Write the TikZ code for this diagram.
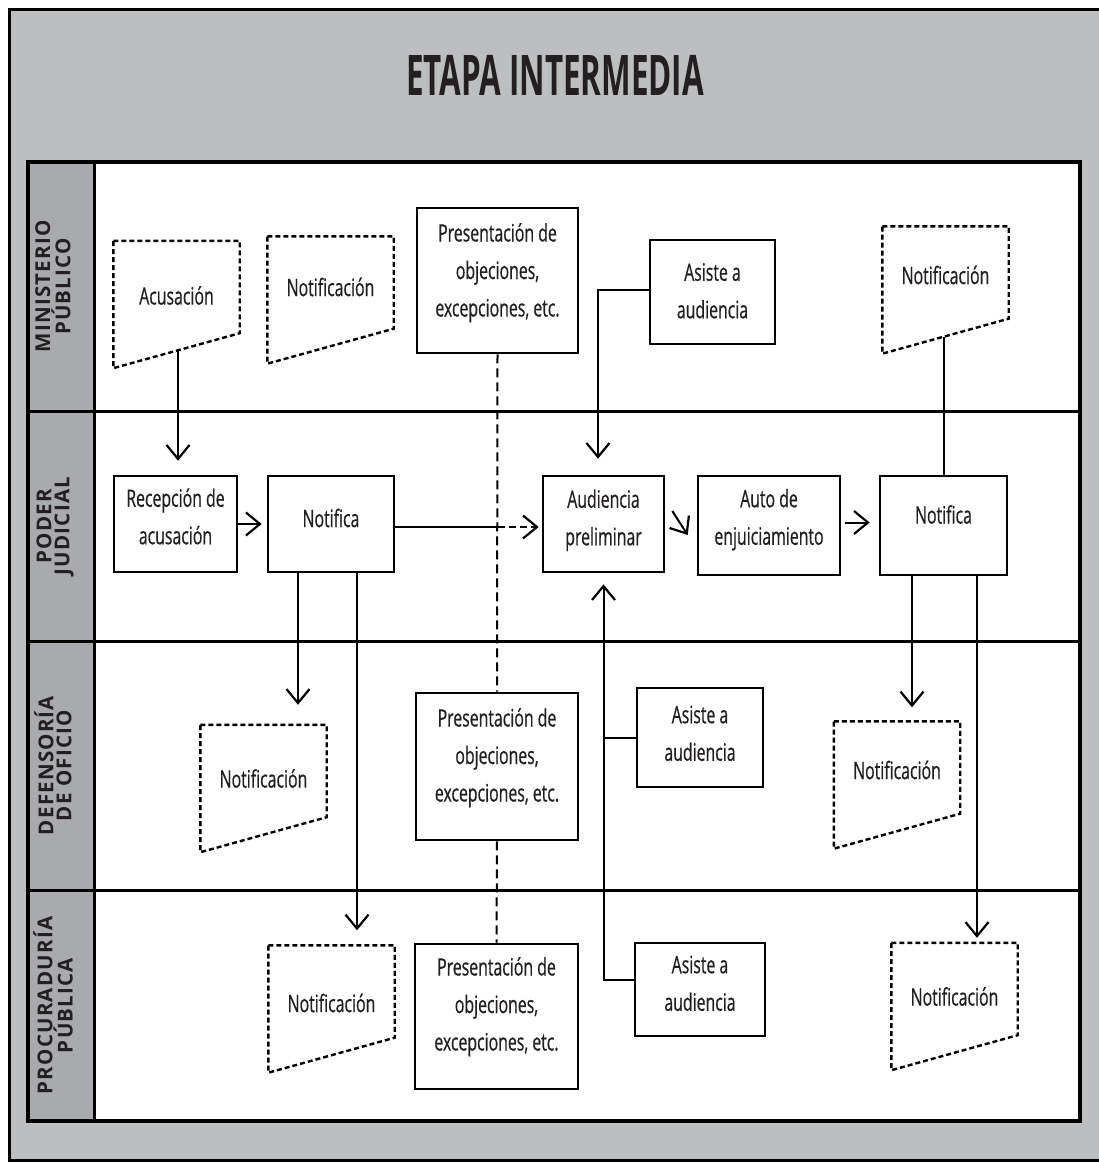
\documentclass[tikz,border=0pt]{standalone}
\usepackage{fontspec}
\setmainfont{Open Sans}
\newfontfamily\bodyfont[FakeStretch=0.66,FakeBold=0.6]{Open Sans}
\newfontfamily\titlefont[FakeStretch=0.56]{Open Sans}
\newfontfamily\lanefont[LetterSpace=6]{Open Sans}
\usetikzlibrary{arrows.meta,calc}
\definecolor{framegray}{HTML}{BCBEC0}
\definecolor{headgray}{HTML}{A8AAAD}
\definecolor{ink}{HTML}{231F20}
\newcommand\boxtext[2]{\raisebox{#1}[\height][\depth]{\begin{tabular}{@{}c@{}}#2\end{tabular}}}
\newcommand\lift[2]{\raisebox{#1}[\height][\depth]{#2}}
\newcommand\docbox[4]{%
  \node[doc] (#1) at (#2) {\lift{#3}{#4}};
  \draw[docline] (#1.north west) -- (#1.north east) -- ([yshift=35pt]#1.south east) -- (#1.south west) -- cycle;}
\begin{document}
\begin{tikzpicture}[x=1pt,y=-1pt,
  proc/.style={draw=black, line width=2.6pt, fill=white, inner sep=0pt,
    font=\bodyfont\fontsize{24}{37.5}\selectfont, text=ink, align=center},
  doc/.style={inner sep=0pt, minimum width=126pt, minimum height=127pt,
    font=\bodyfont\fontsize{24}{37.5}\selectfont, text=ink},
  docline/.style={draw=black, line width=2.4pt, dash pattern=on 5pt off 3pt},
  arr/.style={draw=black, line width=2pt, -{Straight Barb[length=14pt, width=23pt, line width=2.2pt]}},
  link/.style={draw=black, line width=2pt},
  dlink/.style={draw=black, line width=2pt, dash pattern=on 9pt off 5pt},
  lane/.style={draw=black, line width=3pt},
  lanelabel/.style={rotate=90, align=center, text=ink,
    font=\lanefont\bfseries\fontsize{20.5}{18}\selectfont},
]
\useasboundingbox (0,0) rectangle (1099,1162);
\begin{scope}
  \clip (0,0) rectangle (1099,1162);
  \fill[white] (0,0) rectangle (1099,1162);
  \draw[line width=3pt, fill=framegray] (9,9) rectangle (1120,1160);
\end{scope}
\node[font=\titlefont\bfseries\fontsize{56}{60}\selectfont, text=ink] (title) at (555,75) {ETAPA INTERMEDIA};

% panel and lanes
\fill[white] (28,162) rectangle (1080,1121);
\fill[headgray] (28,162) rectangle (94,1121);
\draw[lane] (28,411) -- (1080,411);
\draw[lane] (28,641) -- (1080,641);
\draw[lane] (28,890) -- (1080,890);
\draw[lane] (94,162) -- (94,1121);
\draw[line width=3.5pt] (28,162) rectangle (1080,1121);

\node[lanelabel] (lMP) at (53,286.5) {MINISTERIO\\PÚBLICO};
\node[lanelabel] (lPJ) at (55,526) {PODER\\JUDICIAL};
\node[lanelabel] (lDO) at (53,765.5) {DEFENSORÍA\\DE OFICIO};
\node[lanelabel] (lPP) at (53,1005.5) {PROCURADURÍA\\PÚBLICA};

% process boxes
\node[proc, minimum width=161pt, minimum height=145pt] (presMP) at (497.5,280.5) {\boxtext{9pt}{Presentación de\\objeciones,\\excepciones, etc.}};
\node[proc, minimum width=125pt, minimum height=104pt] (asMP) at (712.5,292) {\boxtext{0pt}{Asiste a\\audiencia}};
\node[proc, minimum width=123pt, minimum height=96pt] (rec) at (175.5,524) {\boxtext{6pt}{Recepción de\\acusación}};
\node[proc, minimum width=126pt, minimum height=96pt] (nt1) at (331,524) {\lift{6pt}{Notifica}};
\node[proc, minimum width=121pt, minimum height=96pt] (aud) at (603.5,524) {\boxtext{5pt}{Audiencia\\preliminar}};
\node[proc, minimum width=142pt, minimum height=99pt] (auto) at (769,525.5) {\boxtext{7pt}{Auto de\\enjuiciamiento}};
\node[proc, minimum width=127pt, minimum height=99pt] (nt2) at (943.5,525.5) {\lift{11pt}{Notifica}};
\node[proc, minimum width=162pt, minimum height=147pt] (presDO) at (497,766.5) {\boxtext{10pt}{Presentación de\\objeciones,\\excepciones, etc.}};
\node[proc, minimum width=126pt, minimum height=99pt] (asDO) at (700,737.5) {\boxtext{3pt}{Asiste a\\audiencia}};
\node[proc, minimum width=163pt, minimum height=145pt] (presPP) at (496.5,1016.5) {\boxtext{11pt}{Presentación de\\objeciones,\\excepciones, etc.}};
\node[proc, minimum width=130pt, minimum height=93pt] (asPP) at (700,989.5) {\boxtext{5pt}{Asiste a\\audiencia}};

% document shapes
\docbox{acus}{176.5,304.5}{9pt}{Acusación}
\docbox{nMP1}{330.5,300}{13pt}{Notificación}
\docbox{nMP2}{945.5,290}{15pt}{Notificación}
\docbox{nDO1}{263.5,788.5}{10pt}{Notificación}
\docbox{nDO2}{897,785}{15pt}{Notificación}
\docbox{nPP1}{331.5,1009}{6pt}{Notificación}
\docbox{nPP2}{954.5,1006.5}{10pt}{Notificación}

% connectors
\draw[dlink] (presMP.south) -- (presDO.north);
\draw[dlink] (presDO.south) -- (presPP.north);
\coordinate (j) at (presMP.south |- nt1.east);
\draw[link] ($(nt1.east)+(0,3)$) -- ($(j)+(0,3)$);
\draw[arr, dash pattern=on 7pt off 4pt] ($(j)+(0,3)$) -- ($(aud.west)+(-3,3)$);
\draw[arr] ($(acus.south)+(1.5,-18)$) -- ($(acus.south |- rec.north)+(1.5,-14)$);
\draw[arr] (rec.east) -- ($(nt1.west)+(-5,0)$);
\draw[arr] ($(asMP.west)+(0,-2)$) -| ($(aud.north)+(-5.5,-16)$);
\draw[arr] ($(aud.east)+(7,-13)$) -- ($(auto.west)+(-9,9.5)$);
\draw[arr] ($(auto.east)+(4,-3)$) -- ($(nt2.west)+(-9,-3)$);
\draw[link] (nt2.north) -- ($(nt2.north |- nMP2.south)+(0,-17)$);
\draw[arr] ($(nt1.south)+(-33,0)$) -- ($(nt1.south |- nDO1.north)+(-33,-20)$);
\draw[arr] ($(nt1.south)+(26,0)$) -- ($(nt1.south |- nPP1.north)+(26,-15)$);
\draw[arr] ($(nt2.south)+(-31.5,0)$) -- ($(nt2.south |- nDO2.north)+(-31.5,-14)$);
\draw[arr] ($(nt2.south)+(33.5,0)$) -- ($(nt2.south |- nPP2.north)+(33.5,-5)$);
\draw[arr] ($(asPP.west)+(0,-10)$) -| ($(aud.south)+(0,11)$);
\draw[link] (asDO.west) -- (asDO.west -| aud.south);
\end{tikzpicture}
\end{document}
